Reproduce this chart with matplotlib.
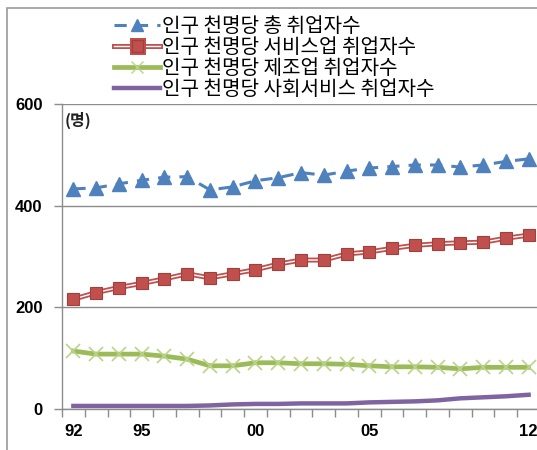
import matplotlib
matplotlib.use("Agg")
import matplotlib.pyplot as plt
import matplotlib.patheffects as pe
from matplotlib.lines import Line2D
from matplotlib.patches import Rectangle

years = ["92", "93", "94", "95", "96", "97", "98", "99", "00", "01", "02",
         "03", "04", "05", "06", "07", "08", "09", "10", "11", "12"]
shown_labels = {"92", "95", "00", "05", "12"}

total = [433, 435, 443, 450, 456, 457, 431, 437, 449, 455, 465,
         460, 468, 474, 477, 480, 480, 476, 480, 487, 492]
service = [216, 229, 239, 247, 256, 266, 258, 266, 274, 285, 293,
           293, 305, 309, 316, 322, 325, 327, 328, 336, 342]
manufacturing = [114, 108, 108, 108, 104, 98, 85, 85, 91, 91, 89,
                 89, 88, 85, 83, 83, 82, 79, 82, 82, 82]
social = [6, 6, 6, 6, 6, 6, 7, 9, 10, 10, 11,
          11, 11, 13, 14, 15, 17, 21, 23, 25, 28]

labels = ["인구 천명당 총 취업자수", "인구 천명당 서비스업 취업자수",
          "인구 천명당 제조업 취업자수", "인구 천명당 사회서비스 취업자수"]

BLUE = "#4F81BD"
RED = "#C0504D"
GREEN = "#9BBB59"
PURPLE = "#8064A2"

plt.rcParams["font.family"] = ["Noto Sans CJK KR", "DejaVu Sans"]

W, H = 537, 450
fig = plt.figure(figsize=(W / 100, H / 100), dpi=100)
left, right, top, bottom = 62, 540, 104, 409
ax = fig.add_axes([left / W, 1 - bottom / H, (right - left) / W, (bottom - top) / H])

x = list(range(len(years)))

# blue: dashed with triangles
ax.plot(x, total, color=BLUE, lw=2.2, ls=(0, (4, 3)), marker="^", ms=9.5,
        mfc=BLUE, mec=BLUE, zorder=4)

# red: double line with squares
ax.plot(x, service, color="white", lw=1.0, zorder=3,
        path_effects=[pe.Stroke(linewidth=3.6, foreground=RED), pe.Normal()])
ax.plot(x, service, ls="none", marker="s", ms=8.5, mfc=RED, mec="#A33E3B", mew=0.8, zorder=4)

# green: thick line with x markers
ax.plot(x, manufacturing, color=GREEN, lw=3.4, marker="x", ms=10, mew=1.2,
        mec="#B9D48A", zorder=3)

# purple: solid
ax.plot(x, social, color=PURPLE, lw=3.2, zorder=3)

ax.set_xlim(-0.5, len(years) - 0.5)
ax.set_ylim(0, 600)
ax.set_yticks([0, 200, 400, 600])
ax.yaxis.grid(True, color="#8C8C8C", lw=1.0)
ax.set_axisbelow(True)

# category ticks at boundaries, labels at points
ax.set_xticks([i - 0.5 for i in range(len(years) + 1)])
ax.set_xticklabels([])
ax.set_xticks(x, minor=True)
ax.set_xticklabels([y if y in shown_labels else "" for y in years], minor=True)
ax.tick_params(axis="x", which="major", length=6, width=1, color="#8C8C8C", direction="out")
ax.tick_params(axis="x", which="minor", length=0, pad=11)
ax.tick_params(axis="y", length=6, width=1, color="#8C8C8C", pad=8)
for lab in ax.get_xticklabels(minor=True) + ax.get_yticklabels():
    lab.set_fontfamily("Liberation Sans")
    lab.set_fontweight("bold")
    lab.set_fontsize(12)

for s in ["top", "right"]:
    ax.spines[s].set_visible(False)
for s in ["left", "bottom"]:
    ax.spines[s].set_color("#8C8C8C")
    ax.spines[s].set_linewidth(1.0)

ax.text(0.006, 0.975, "(명)", transform=ax.transAxes, ha="left", va="top",
        fontsize=11.5, fontweight="bold", color="#222222")

# legend
h_total = Line2D([], [], color=BLUE, lw=2.2, ls=(0, (4, 3)), marker="^", ms=8)
h_service = Line2D([], [], color="white", lw=1.0, marker="s", ms=8, mfc=RED, mec="#A33E3B",
                   path_effects=[pe.Stroke(linewidth=3.6, foreground=RED), pe.Normal()])
h_manu = Line2D([], [], color=GREEN, lw=3.4, marker="x", ms=9, mec="#B9D48A")
h_social = Line2D([], [], color=PURPLE, lw=3.2)
fig.legend([h_total, h_service, h_manu, h_social], labels,
           loc="upper left", bbox_to_anchor=(100 / W, 1 - 2 / H),
           frameon=False, fontsize=14.5, handlelength=2.3, handletextpad=0.1,
           labelspacing=0.0, borderpad=0.2)

# outer border
fig.patches.append(Rectangle((7 / W, -0.1), 1.2, 1 - 8 / H + 0.1, transform=fig.transFigure,
                             fill=False, ec="#9A9A9A", lw=1.2))

fig.savefig("out.png", dpi=100)
